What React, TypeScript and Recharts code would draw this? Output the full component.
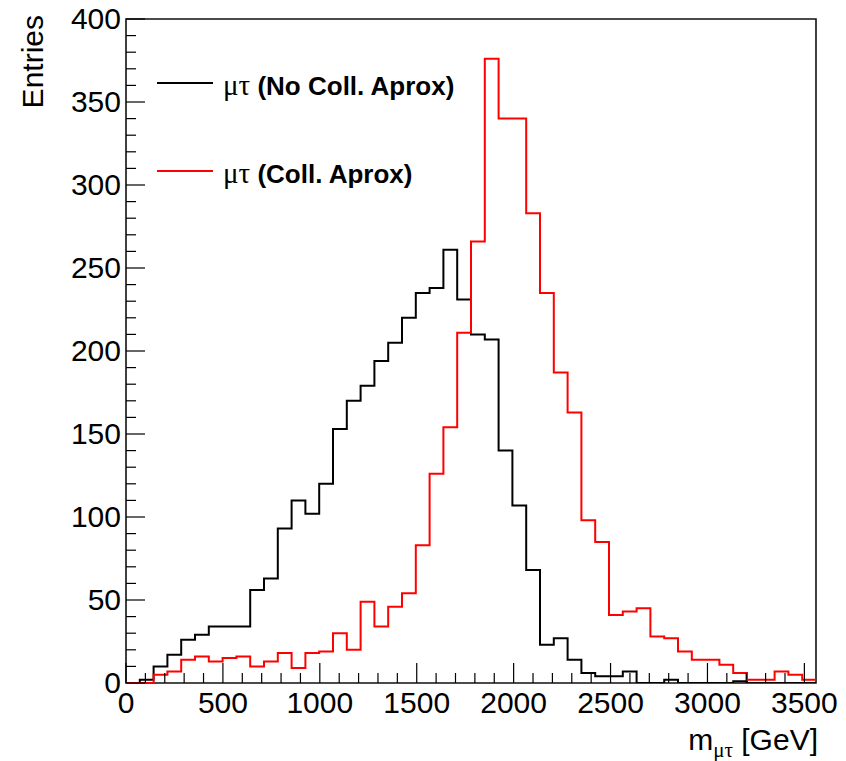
import { ComposedChart, Line, XAxis, YAxis, ReferenceArea, Legend } from "recharts";

const X_MIN = 0;
const X_MAX = 3560;
const N_BINS = 50;

// m(mu tau) entries per bin, 50 bins from X_MIN to X_MAX
const noCollApprox = [
  0, 2, 10, 17, 26, 29, 34, 34, 34, 56,
  63, 93, 110, 102, 120, 153, 170, 179, 194, 205,
  220, 235, 238, 261, 231, 210, 207, 140, 107, 68,
  23, 27, 14, 6, 4, 4, 7, 0, 0, 2,
  0, 0, 0, 0, 1, 0, 0, 0, 0, 0,
];

const collApprox = [
  0, 0, 5, 7, 14, 16, 13, 15, 16, 10,
  13, 18, 9, 18, 19, 30, 20, 49, 34, 46,
  54, 83, 126, 154, 211, 266, 376, 340, 340, 283,
  235, 187, 163, 98, 85, 41, 43, 45, 28, 27,
  19, 14, 14, 11, 6, 2, 2, 7, 5, 2,
];

const seriesLabels = ["(No Coll. Aprox)", "(Coll. Aprox)"];
const seriesColors = ["#000000", "#ff0000"];

// tick positions: majors labelled, minors in between
const xTicks = Array.from({ length: 36 }, (_, i) => i * 100);
const yTicks = Array.from({ length: 41 }, (_, i) => i * 10);
const X_MAJOR = 500;
const Y_MAJOR = 50;

const binWidth = (X_MAX - X_MIN) / N_BINS;

// step outline: one row per low edge, plus the upper edge of the last bin
const histData = noCollApprox.map((v, i) => ({
  edge: X_MIN + i * binWidth,
  black: v,
  red: collApprox[i],
}));
histData.push({
  edge: X_MAX,
  black: noCollApprox[N_BINS - 1],
  red: collApprox[N_BINS - 1],
});

const SANS = "'Liberation Sans', Arial, Helvetica, sans-serif";
const SERIF = "'Liberation Serif', 'DejaVu Serif', serif";
const LABEL_SIZE = 30;

function XTick({ x, y, payload }: any) {
  const v = payload.value;
  const major = v % X_MAJOR === 0;
  return (
    <g>
      <line x1={x} x2={x} y1={y} y2={y - (major ? 20 : 10)} stroke="#000" strokeWidth={1.2} />
      {major && (
        <text x={x} y={y + 30} textAnchor="middle" fontSize={LABEL_SIZE} fontFamily={SANS} fill="#000">
          {v}
        </text>
      )}
    </g>
  );
}

function YTick({ x, y, payload }: any) {
  const v = payload.value;
  const major = v % Y_MAJOR === 0;
  return (
    <g>
      <line x1={x} x2={x + (major ? 19 : 10)} y1={y} y2={y} stroke="#000" strokeWidth={1.2} />
      {major && (
        <text x={x - 5} y={y + 10} textAnchor="end" fontSize={LABEL_SIZE} fontFamily={SANS} fill="#000">
          {v}
        </text>
      )}
    </g>
  );
}

function HistLegend() {
  const rows = [83, 171];
  return (
    <svg width={846} height={220}>
      {rows.map((ly, i) => (
        <g key={i}>
          <line x1={157} x2={213} y1={ly} y2={ly} stroke={seriesColors[i]} strokeWidth={2} />
          <text x={223} y={ly + 12} fill="#000">
            <tspan fontFamily={SERIF} fontSize={29}>
              μτ
            </tspan>
            <tspan fontFamily={SANS} fontWeight="bold" fontSize={26}>
              {" " + seriesLabels[i]}
            </tspan>
          </text>
        </g>
      ))}
    </svg>
  );
}

export default function App() {
  return (
    <div style={{ position: "absolute", left: 0, top: 0, width: 846, height: 761, background: "#fff" }}>
      <ComposedChart
        width={846}
        height={761}
        data={histData}
        margin={{ top: 19, right: 30, bottom: 77, left: 125 }}
      >
        <XAxis
          dataKey="edge"
          type="number"
          domain={[X_MIN, X_MAX]}
          allowDataOverflow
          ticks={xTicks}
          interval={0}
          height={1}
          tickSize={0}
          tickMargin={0}
          axisLine={false}
          tickLine={false}
          tick={<XTick />}
          label={{
            content: () => (
              <text x={818} y={750} textAnchor="end" fontSize={30} fontFamily={SANS} fill="#000">
                m
                <tspan fontFamily={SERIF} fontSize={21} dy={7}>
                  μτ
                </tspan>
                <tspan dy={-7}> [GeV]</tspan>
              </text>
            ),
          }}
        />
        <YAxis
          type="number"
          domain={[0, 400]}
          allowDataOverflow
          ticks={yTicks}
          interval={0}
          width={1}
          tickSize={0}
          tickMargin={0}
          axisLine={false}
          tickLine={false}
          tick={<YTick />}
          label={{
            content: () => (
              <text
                x={43}
                y={15}
                textAnchor="end"
                fontSize={30}
                fontFamily={SANS}
                fill="#000"
                transform="rotate(-90 43 15)"
              >
                Entries
              </text>
            ),
          }}
        />
        <ReferenceArea
          x1={X_MIN}
          x2={X_MAX}
          y1={0}
          y2={400}
          fill="none"
          stroke="#111"
          strokeWidth={1.6}
          ifOverflow="visible"
        />
        <Line
          dataKey="black"
          type="stepAfter"
          stroke={seriesColors[0]}
          strokeWidth={2}
          dot={false}
          activeDot={false}
          isAnimationActive={false}
        />
        <Line
          dataKey="red"
          type="stepAfter"
          stroke={seriesColors[1]}
          strokeWidth={2}
          dot={false}
          activeDot={false}
          isAnimationActive={false}
        />
        <Legend
          layout="horizontal"
          verticalAlign="middle"
          align="center"
          wrapperStyle={{ position: "absolute", left: 0, top: 0, width: 846, height: 220 }}
          content={() => <HistLegend />}
        />
      </ComposedChart>
    </div>
  );
}
